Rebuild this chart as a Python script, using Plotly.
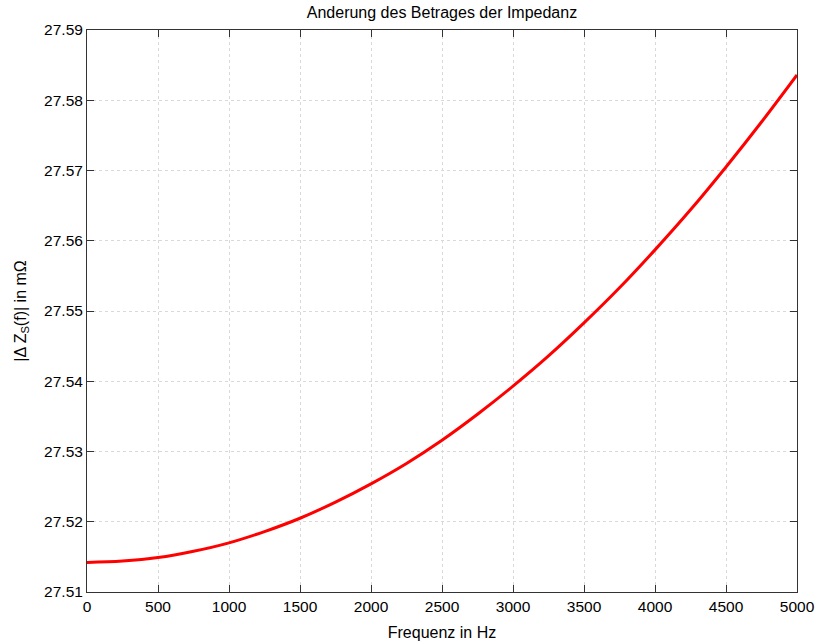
import plotly.graph_objects as go

freq_hz = [0, 250, 500, 750, 1000, 1250, 1500, 1750, 2000, 2250, 2500,
           2750, 3000, 3250, 3500, 3750, 4000, 4250, 4500, 4750, 5000]
dz_mohm = [27.5142, 27.5144, 27.5149, 27.5158, 27.5170, 27.5186, 27.5205,
           27.5228, 27.5254, 27.5283, 27.5316, 27.5353, 27.5393, 27.5436,
           27.5483, 27.5533, 27.5587, 27.5644, 27.5705, 27.5769, 27.5836]

x_ticks = [0, 500, 1000, 1500, 2000, 2500, 3000, 3500, 4000, 4500, 5000]
y_ticks = [27.51, 27.52, 27.53, 27.54, 27.55, 27.56, 27.57, 27.58, 27.59]

font_family = "Liberation Sans, Arial, Helvetica, sans-serif"

fig = go.Figure()
fig.add_trace(go.Scatter(
    x=freq_hz, y=dz_mohm, mode="lines",
    line=dict(color="#ff0000", width=3, shape="spline", smoothing=1.0),
    showlegend=False,
))

axis_common = dict(
    showline=True, linecolor="#333333", linewidth=1, mirror="ticks",
    ticks="inside", ticklen=7, tickcolor="#333333", tickwidth=1,
    showgrid=True, gridcolor="#d9d9d9", griddash="dot", gridwidth=1,
    zeroline=False, automargin=False,
    tickfont=dict(family=font_family, size=15.5, color="#000000"),
)

fig.update_layout(
    width=815, height=641,
    margin=dict(l=87, r=18, t=30, b=49),
    paper_bgcolor="white", plot_bgcolor="white",
    font=dict(family=font_family, color="#000000"),
    title=dict(text="Anderung des Betrages der Impedanz", x=0.5423, xanchor="center",
               y=0.98, yanchor="middle",
               font=dict(family=font_family, size=16, color="#000000")),
    xaxis=dict(range=[0, 5000], tickvals=x_ticks, ticktext=[str(v) for v in x_ticks],
               title=dict(text="Frequenz in Hz", standoff=13,
                          font=dict(family=font_family, size=16, color="#000000")),
               **axis_common),
    yaxis=dict(range=[27.51, 27.59], tickvals=y_ticks,
               ticktext=[f"{v:.2f}" for v in y_ticks],
               title=dict(text="|Δ Z<sub>S</sub>(f)| in mΩ", standoff=13,
                          font=dict(family=font_family, size=16, color="#000000")),
               **axis_common),
)

fig.write_html("out.html")
